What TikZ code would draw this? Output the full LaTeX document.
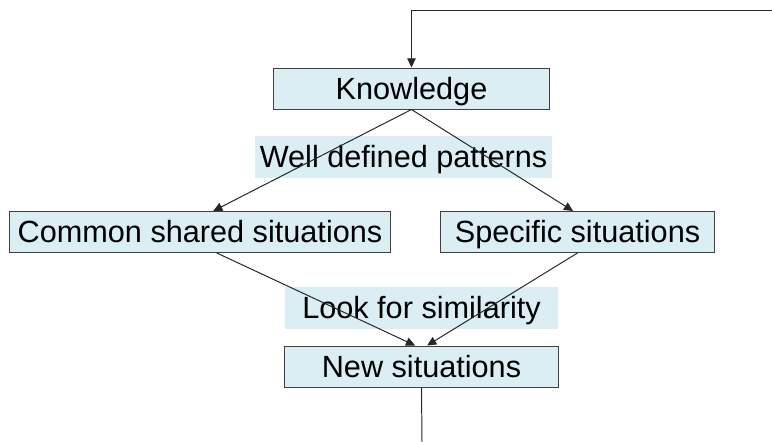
\documentclass[tikz,border=0pt]{standalone}
\usepackage{fontspec}
\setmainfont{Liberation Sans}
\usetikzlibrary{arrows.meta}
\definecolor{boxfill}{RGB}{218,238,243}

\begin{document}
\begin{tikzpicture}[x=0.025cm,y=-0.025cm]
    \tikzstyle{edge}  = [line width=0.7pt,draw=black!85]
    \tikzstyle{dedge} = [edge,-{Triangle[length=6.5pt,width=6pt]}]
    \tikzstyle{sbox}=[
      draw=black!75,
      line width=0.7pt,
      fill=boxfill,
      inner sep=0pt,
      anchor=center,
      minimum height=1.025cm,
      text height=15.6pt,
      text depth=0pt,
      font=\fontsize{21.8}{26}\selectfont,
    ]
    \tikzstyle{slabel}=[
      sbox,
      draw=none,
      minimum height=1.05cm,
    ]

    \useasboundingbox (0,0) rectangle (772,442);

    {
      \node[sbox, minimum width=6.9cm] (know) at (411.5,88.5) {Knowledge};

      \node[slabel, minimum width=7.425cm] (well) at (403.5,157) {Well defined patterns};

      \node[sbox, minimum width=9.5cm] (common) at (200,232) {Common shared situations};
      \node[sbox, minimum width=6.825cm] (specific) at (577.5,232) {Specific situations};

      \node[slabel, minimum width=6.825cm] (look) at (421.5,308) {Look for similarity};

      \node[sbox, minimum width=6.825cm] (newsit) at (421.5,366.5) {New situations};

      \coordinate (loop) at (772,10);
      \coordinate (out) at (422,442);
    }

    {
      \draw[dedge] (loop) -| (know.north);

      \draw[dedge] (know.south)--([xshift=0.33cm]common.north);
      \draw[dedge] (know.south)--([xshift=-0.11cm]specific.north);

      \draw[dedge] ([xshift=0.42cm]common.south)--([xshift=-0.16cm]newsit.north);
      \draw[dedge] (specific.south)--([xshift=0.14cm]newsit.north);

      \draw[edge] (newsit.south)--(out);
    }
\end{tikzpicture}
\end{document}
